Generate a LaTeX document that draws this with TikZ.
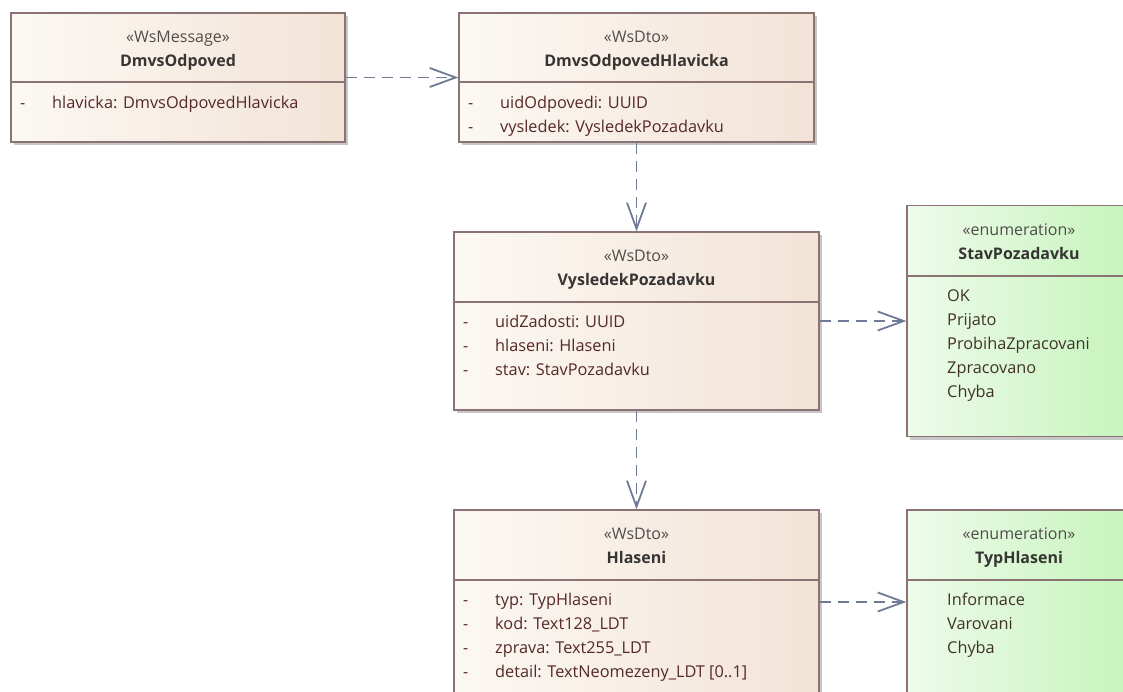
\documentclass[tikz,border=0pt]{standalone}
\usepackage{fontspec}
\setmainfont{Open Sans}
\usetikzlibrary{arrows.meta,shadows}

\definecolor{wsLeft}{RGB}{252,248,244}
\definecolor{wsRight}{RGB}{242,227,214}
\definecolor{enLeft}{RGB}{238,251,234}
\definecolor{enRight}{RGB}{198,244,188}
\definecolor{boxBorder}{RGB}{140,115,115}
\definecolor{depColor}{RGB}{110,122,150}
\definecolor{stereoText}{RGB}{80,76,76}
\definecolor{nameText}{RGB}{55,52,52}
\definecolor{attrText}{RGB}{85,40,40}
\definecolor{itemText}{RGB}{65,50,40}

\tikzset{
	umlShadow/.style={drop shadow={shadow xshift=3pt, shadow yshift=-3pt, fill=black!22, opacity=1}},
	wsBox/.style={rectangle, draw=boxBorder, line width=1.3pt, left color=wsLeft, right color=wsRight, inner sep=0pt, umlShadow},
	enumBox/.style={rectangle, draw=boxBorder, line width=1.3pt, left color=enLeft, right color=enRight, inner sep=0pt, umlShadow},
	divider/.style={draw=boxBorder, line width=1.3pt},
	stereo/.style={anchor=base, inner sep=0pt, text=stereoText, font=\fontsize{16}{24}\selectfont},
	className/.style={anchor=base, inner sep=0pt, text=nameText, font=\fontsize{16}{24}\selectfont\bfseries},
	attrDash/.style={anchor=base west, inner sep=0pt, text=attrText, font=\fontsize{16}{24}\selectfont},
	attr/.style={anchor=base west, inner sep=0pt, text=attrText, font=\fontsize{16.3}{24}\selectfont},
	enumItem/.style={anchor=base west, inner sep=0pt, text=itemText, font=\fontsize{16.3}{24}\selectfont},
	depArrow/.style={draw=depColor, line width=1.8pt, dash pattern=on 11pt off 7pt, -{Straight Barb[length=26pt, width=19pt, line width=1.8pt]}}
}

\begin{document}
\begin{tikzpicture}[x=1pt, y=-1pt]
	\useasboundingbox (0,0) rectangle (1123,691);
	\clip (0,0) rectangle (1123,691);

	\node[wsBox, minimum width=334pt, minimum height=129pt](odpovedBox) at (178,77.5){};
	\node[stereo](odpovedStereo) at (178,42){«WsMessage»};
	\node[className](odpovedName) at (178,66){DmvsOdpoved};
	\draw[divider] (odpovedBox.west |- 0,82) -- (odpovedBox.east |- 0,82);
	\node[attrDash](odpovedDash1) at (20,108){-};
	\node[attr](odpovedAttr1) at (52,108){hlavicka: DmvsOdpovedHlavicka};

	\node[wsBox, minimum width=355pt, minimum height=129pt](hlavickaBox) at (636.5,77.5){};
	\node[stereo](hlavickaStereo) at (636.5,42){«WsDto»};
	\node[className](hlavickaName) at (636.5,66){DmvsOdpovedHlavicka};
	\draw[divider] (hlavickaBox.west |- 0,82) -- (hlavickaBox.east |- 0,82);
	\node[attrDash](hlavickaDash1) at (468,108){-};
	\node[attr](hlavickaAttr1) at (500,108){uidOdpovedi: UUID};
	\node[attrDash](hlavickaDash2) at (468,132){-};
	\node[attr](hlavickaAttr2) at (500,132){vysledek: VysledekPozadavku};

	\node[wsBox, minimum width=365pt, minimum height=178pt](vysledekBox) at (636.5,321){};
	\node[stereo](vysledekStereo) at (636.5,261){«WsDto»};
	\node[className](vysledekName) at (636.5,285){VysledekPozadavku};
	\draw[divider] (vysledekBox.west |- 0,302) -- (vysledekBox.east |- 0,302);
	\node[attrDash](vysledekDash1) at (463,327){-};
	\node[attr](vysledekAttr1) at (495,327){uidZadosti: UUID};
	\node[attrDash](vysledekDash2) at (463,351){-};
	\node[attr](vysledekAttr2) at (495,351){hlaseni: Hlaseni};
	\node[attrDash](vysledekDash3) at (463,375){-};
	\node[attr](vysledekAttr3) at (495,375){stav: StavPozadavku};

	\node[enumBox, minimum width=224pt, minimum height=231pt](stavBox) at (1019,321){};
	\node[stereo](stavStereo) at (1019,235){«enumeration»};
	\node[className](stavName) at (1019,259){StavPozadavku};
	\draw[divider] (stavBox.west |- 0,276) -- (stavBox.east |- 0,276);
	\node[enumItem](stavItem1) at (947,301){OK};
	\node[enumItem](stavItem2) at (947,325){Prijato};
	\node[enumItem](stavItem3) at (947,349){ProbihaZpracovani};
	\node[enumItem](stavItem4) at (947,373){Zpracovano};
	\node[enumItem](stavItem5) at (947,397){Chyba};

	\node[wsBox, minimum width=365pt, minimum height=184pt](hlaseniBox) at (636.5,602){};
	\node[stereo](hlaseniStereo) at (636.5,539){«WsDto»};
	\node[className](hlaseniName) at (636.5,563){Hlaseni};
	\draw[divider] (hlaseniBox.west |- 0,580) -- (hlaseniBox.east |- 0,580);
	\node[attrDash](hlaseniDash1) at (463,605){-};
	\node[attr](hlaseniAttr1) at (495,605){typ: TypHlaseni};
	\node[attrDash](hlaseniDash2) at (463,629){-};
	\node[attr](hlaseniAttr2) at (495,629){kod: Text128\_LDT};
	\node[attrDash](hlaseniDash3) at (463,653){-};
	\node[attr](hlaseniAttr3) at (495,653){zprava: Text255\_LDT};
	\node[attrDash](hlaseniDash4) at (463,677){-};
	\node[attr](hlaseniAttr4) at (495,677){detail: TextNeomezeny\_LDT [0..1]};

	\node[enumBox, minimum width=224pt, minimum height=184pt](typBox) at (1019,602){};
	\node[stereo](typStereo) at (1019,539){«enumeration»};
	\node[className](typName) at (1019,563){TypHlaseni};
	\draw[divider] (typBox.west |- 0,580) -- (typBox.east |- 0,580);
	\node[enumItem](typItem1) at (947,605){Informace};
	\node[enumItem](typItem2) at (947,629){Varovani};
	\node[enumItem](typItem3) at (947,653){Chyba};

	\draw[depArrow] (odpovedBox) -- (hlavickaBox);
	\draw[depArrow] (hlavickaBox) -- (vysledekBox);
	\draw[depArrow] (vysledekBox) -- (stavBox);
	\draw[depArrow] (vysledekBox) -- (hlaseniBox);
	\draw[depArrow] (hlaseniBox) -- (typBox);
\end{tikzpicture}
\end{document}
